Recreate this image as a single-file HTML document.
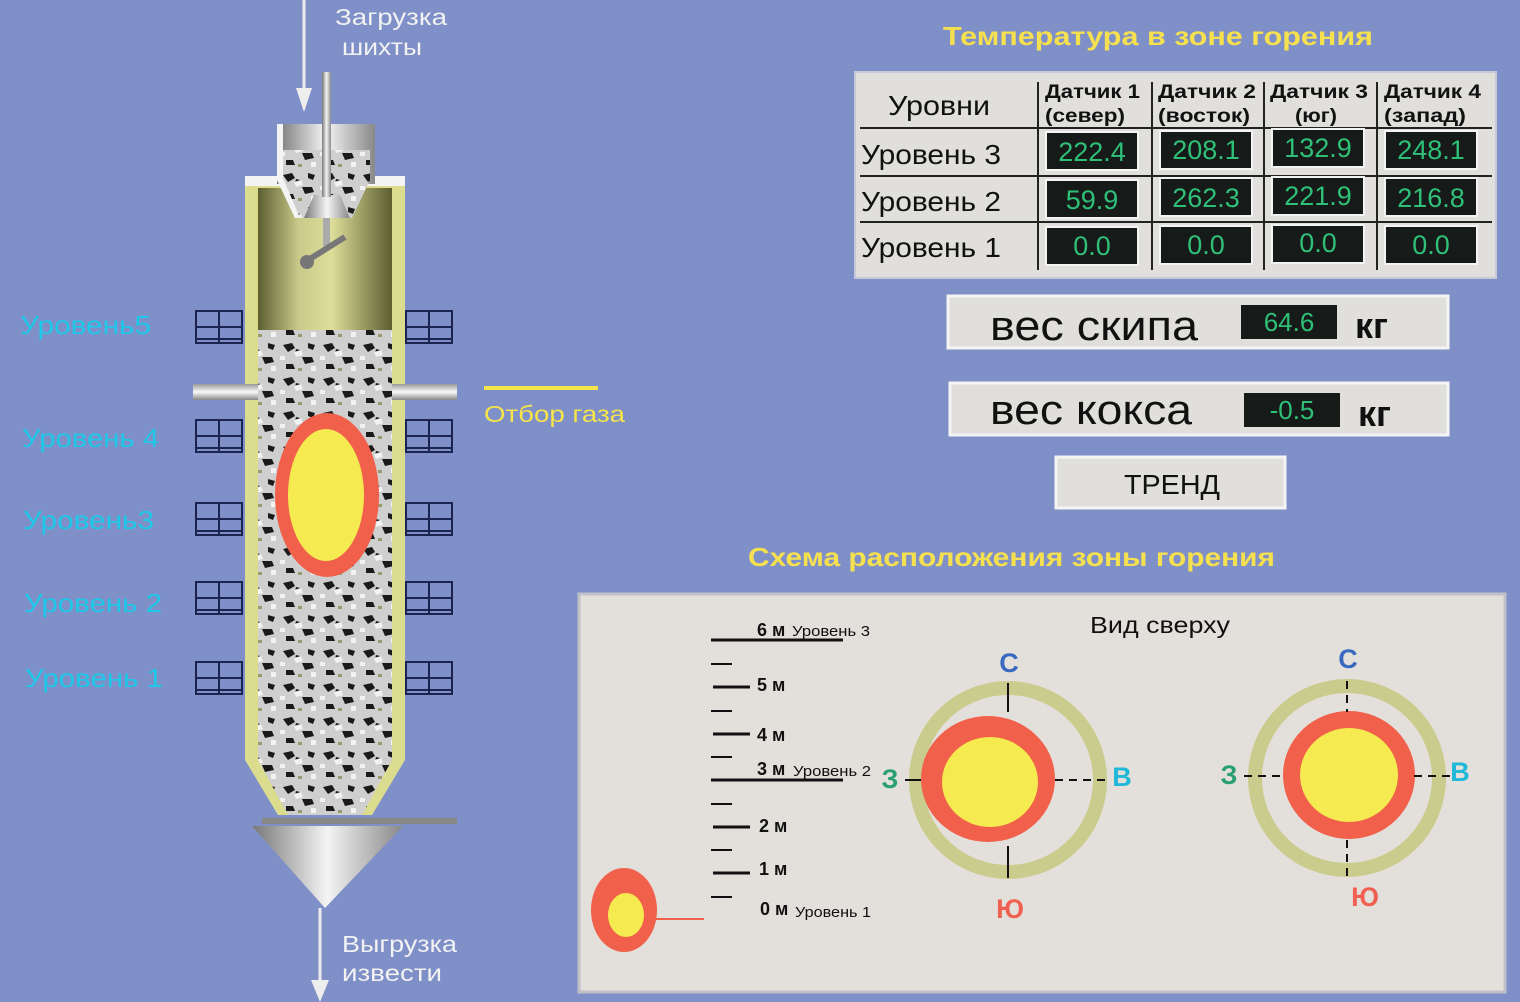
<!DOCTYPE html>
<html><head><meta charset="utf-8"><style>
html,body{margin:0;padding:0;background:#7f8fc8;}
svg{display:block}
text{font-family:"Liberation Sans","DejaVu Sans",sans-serif}
</style></head><body>
<svg width="1520" height="1002" viewBox="0 0 1520 1002" xmlns="http://www.w3.org/2000/svg">
<defs>
<linearGradient id="col" x1="0" x2="1" y1="0" y2="0">
<stop offset="0" stop-color="#5c5e30"/><stop offset="0.3" stop-color="#c9c98a"/><stop offset="0.55" stop-color="#dede9a"/><stop offset="1" stop-color="#5c5e30"/></linearGradient>
<linearGradient id="met" x1="0" x2="1" y1="0" y2="0">
<stop offset="0" stop-color="#777"/><stop offset="0.5" stop-color="#f4f4f4"/><stop offset="1" stop-color="#888"/></linearGradient>
<linearGradient id="pipe" x1="0" x2="0" y1="0" y2="1">
<stop offset="0" stop-color="#999"/><stop offset="0.5" stop-color="#fafafa"/><stop offset="1" stop-color="#888"/></linearGradient>
<pattern id="stones" width="40" height="34" patternUnits="userSpaceOnUse">
<rect width="40" height="34" fill="#cfcfcf"/>
<path d="M3 5 l9 -2 l3 5 l-7 4z M22 17 l10 0 l2 5 l-9 2z M6 24 l7 0 l2 5 l-9 0z M28 3 l7 2 l-2 5 l-5 -2z M16 9 l4 1 l-1 4 l-4 -1z" fill="#1a1a1a"/>
<path d="M14 12 l7 -2 l2 5 l-7 2z M31 26 l5 0 l0 5 l-5 0z M0 16 l5 0 l0 4 l-5 0z" fill="#f2f2f2"/>
<path d="M18 28 l4 0 l0 3 l-4 0z" fill="#9a9a70"/>
</pattern>
<g id="g1" fill="none" stroke="#1b2450" stroke-width="2"><rect x="196" y="0" width="46" height="32"/><line x1="196" y1="16" x2="242" y2="16"/><line x1="219" y1="0" x2="219" y2="32"/><line x1="196" y1="28" x2="242" y2="28"/></g>
</defs>
<rect width="1520" height="1002" fill="#7f8fc8"/>

<!-- loading arrow -->
<line x1="304" y1="0" x2="304" y2="100" stroke="#eee" stroke-width="3"/>
<polygon points="296,88 312,88 304,112" fill="#eee"/>
<text x="335" y="25" font-size="23" fill="#f2f2f2" textLength="112" lengthAdjust="spacingAndGlyphs">Загрузка</text>
<text x="342" y="55" font-size="23" fill="#f2f2f2" textLength="80" lengthAdjust="spacingAndGlyphs">шихты</text>

<!-- furnace body -->
<polygon points="245,180 405,180 405,760 372,815 278,815 245,760" fill="#dcdc8e"/>
<rect x="245" y="176" width="160" height="10" fill="#f4f4f4"/>
<polygon points="258,188 392,188 392,760 362,808 288,808 258,760" fill="url(#col)"/>
<polygon points="258,330 392,330 392,760 362,815 288,815 258,760" fill="url(#stones)"/>
<!-- hopper -->
<rect x="277" y="124" width="98" height="60" fill="url(#met)"/>
<polygon points="277,124 283,124 283,175 300,218 295,218 277,180" fill="#f4f4f4"/>
<polygon points="283,150 370,150 370,180 352,218 300,218 283,178" fill="url(#stones)"/>
<polygon points="314,195 340,195 350,218 304,218" fill="url(#met)"/>
<rect x="322" y="72" width="9" height="125" fill="url(#met)"/>
<rect x="323" y="218" width="7" height="28" fill="#aaa"/>
<path d="M305 262 l40 -25" stroke="#777" stroke-width="6"/>
<circle cx="307" cy="262" r="7" fill="#777"/>
<!-- flame -->
<ellipse cx="327" cy="495" rx="52" ry="82" fill="#f0604a"/>
<ellipse cx="326" cy="495" rx="38" ry="66" fill="#f5ea4f"/>
<!-- bottom cone -->
<rect x="262" y="818" width="195" height="6" fill="#888"/>
<polygon points="252,826 403,826 325,908" fill="url(#met)"/>
<line x1="320" y1="908" x2="320" y2="990" stroke="#eee" stroke-width="3"/>
<polygon points="311,980 329,980 320,1002" fill="#eee"/>
<text x="342" y="952" font-size="23" fill="#f2f2f2" textLength="115" lengthAdjust="spacingAndGlyphs">Выгрузка</text>
<text x="342" y="981" font-size="23" fill="#f2f2f2" textLength="100" lengthAdjust="spacingAndGlyphs">извести</text>
<!-- pipes -->
<rect x="193" y="384" width="65" height="16" fill="url(#pipe)"/>
<rect x="392" y="384" width="65" height="16" fill="url(#pipe)"/>
<line x1="484" y1="388" x2="598" y2="388" stroke="#f5e44a" stroke-width="4"/>
<text x="484" y="422" font-size="23" fill="#f5e44a" textLength="141" lengthAdjust="spacingAndGlyphs">Отбор газа</text>

<!-- grids -->
<g transform="translate(0,311)"><use href="#g1"/><use href="#g1" x="210"/></g>
<g transform="translate(0,420)"><use href="#g1"/><use href="#g1" x="210"/></g>
<g transform="translate(0,503)"><use href="#g1"/><use href="#g1" x="210"/></g>
<g transform="translate(0,582)"><use href="#g1"/><use href="#g1" x="210"/></g>
<g transform="translate(0,662)"><use href="#g1"/><use href="#g1" x="210"/></g>
<g font-size="26" fill="#1ec8e8">
<text x="20" y="334" textLength="131" lengthAdjust="spacingAndGlyphs">Уровень5</text>
<text x="22" y="447" textLength="137" lengthAdjust="spacingAndGlyphs">Уровень 4</text>
<text x="23" y="529" textLength="131" lengthAdjust="spacingAndGlyphs">Уровень3</text>
<text x="24" y="612" textLength="138" lengthAdjust="spacingAndGlyphs">Уровень 2</text>
<text x="25" y="687" textLength="138" lengthAdjust="spacingAndGlyphs">Уровень 1</text>
</g>

<!-- right panel -->
<text x="943" y="45" font-size="26" font-weight="bold" fill="#f5e050" textLength="430" lengthAdjust="spacingAndGlyphs">Температура в зоне горения</text>
<rect x="855" y="72" width="641" height="206" fill="#e1dfdb" stroke="#c8c8d8" stroke-width="2"/>
<g stroke="#222" stroke-width="2">
<line x1="860" y1="128" x2="1492" y2="128"/>
<line x1="860" y1="176" x2="1492" y2="176"/>
<line x1="860" y1="222" x2="1492" y2="222"/>
<line x1="1038" y1="82" x2="1038" y2="270"/>
<line x1="1152" y1="82" x2="1152" y2="270"/>
<line x1="1264" y1="82" x2="1264" y2="270"/>
<line x1="1377" y1="82" x2="1377" y2="270"/>
</g>
<g font-size="19" font-weight="bold" fill="#111">
<text x="1045" y="98" textLength="95" lengthAdjust="spacingAndGlyphs">Датчик 1</text><text x="1045" y="122" textLength="80" lengthAdjust="spacingAndGlyphs">(север)</text>
<text x="1158" y="98" textLength="98" lengthAdjust="spacingAndGlyphs">Датчик 2</text><text x="1158" y="122" textLength="92" lengthAdjust="spacingAndGlyphs">(восток)</text>
<text x="1270" y="98" textLength="98" lengthAdjust="spacingAndGlyphs">Датчик 3</text><text x="1295" y="122" textLength="42" lengthAdjust="spacingAndGlyphs">(юг)</text>
<text x="1384" y="98" textLength="97" lengthAdjust="spacingAndGlyphs">Датчик 4</text><text x="1384" y="122" textLength="82" lengthAdjust="spacingAndGlyphs">(запад)</text>
</g>
<g font-size="28" fill="#111">
<text x="888" y="115" textLength="102" lengthAdjust="spacingAndGlyphs">Уровни</text>
<text x="861" y="164" textLength="140" lengthAdjust="spacingAndGlyphs">Уровень 3</text>
<text x="861" y="211" textLength="140" lengthAdjust="spacingAndGlyphs">Уровень 2</text>
<text x="861" y="257" textLength="140" lengthAdjust="spacingAndGlyphs">Уровень 1</text>
</g>
<g fill="#161a18" stroke="#f4f4f4" stroke-width="2">
<rect x="1046" y="132" width="92" height="38"/><rect x="1160" y="131" width="92" height="38"/><rect x="1272" y="129" width="92" height="38"/><rect x="1385" y="131" width="92" height="38"/>
<rect x="1046" y="180" width="92" height="38"/><rect x="1160" y="178" width="92" height="38"/><rect x="1272" y="177" width="92" height="38"/><rect x="1385" y="178" width="92" height="38"/>
<rect x="1046" y="227" width="92" height="38"/><rect x="1160" y="226" width="92" height="38"/><rect x="1272" y="225" width="92" height="38"/><rect x="1385" y="226" width="92" height="38"/>
</g>
<g font-size="27" fill="#2fc078" text-anchor="middle">
<text x="1092" y="161">222.4</text><text x="1206" y="159">208.1</text><text x="1318" y="157">132.9</text><text x="1431" y="159">248.1</text>
<text x="1092" y="209">59.9</text><text x="1206" y="207">262.3</text><text x="1318" y="205">221.9</text><text x="1431" y="207">216.8</text>
<text x="1092" y="255">0.0</text><text x="1206" y="254">0.0</text><text x="1318" y="252">0.0</text><text x="1431" y="254">0.0</text>
</g>

<rect x="948" y="296" width="500" height="52" fill="#e1dfdb" stroke="#f4f4f4" stroke-width="3"/>
<text x="990" y="340" font-size="42" fill="#111" textLength="208" lengthAdjust="spacingAndGlyphs">вес скипа</text>
<rect x="1241" y="305" width="96" height="34" fill="#161a18"/>
<text x="1289" y="331" font-size="26" fill="#2fc078" text-anchor="middle">64.6</text>
<text x="1355" y="338" font-size="36" font-weight="bold" fill="#111">кг</text>

<rect x="950" y="383" width="498" height="52" fill="#e1dfdb" stroke="#f4f4f4" stroke-width="3"/>
<text x="990" y="424" font-size="42" fill="#111" textLength="202" lengthAdjust="spacingAndGlyphs">вес кокса</text>
<rect x="1244" y="393" width="96" height="34" fill="#161a18"/>
<text x="1292" y="419" font-size="26" fill="#2fc078" text-anchor="middle">-0.5</text>
<text x="1358" y="426" font-size="36" font-weight="bold" fill="#111">кг</text>

<rect x="1056" y="457" width="229" height="51" fill="#e1dfdb" stroke="#f4f4f4" stroke-width="3"/>
<text x="1124" y="494" font-size="28" fill="#111" textLength="96" lengthAdjust="spacingAndGlyphs">ТРЕНД</text>

<text x="748" y="566" font-size="26" font-weight="bold" fill="#f5e050" textLength="527" lengthAdjust="spacingAndGlyphs">Схема расположения зоны горения</text>
<rect x="579" y="594" width="926" height="398" fill="#e3e0dc" stroke="#c0c0c8" stroke-width="3"/>
<text x="1090" y="633" font-size="23" fill="#111" textLength="140" lengthAdjust="spacingAndGlyphs">Вид сверху</text>

<!-- scale -->
<g stroke="#111" stroke-width="3">
<line x1="711" y1="640" x2="843" y2="640"/>
<line x1="711" y1="780" x2="843" y2="780"/>
<line x1="713" y1="687" x2="750" y2="687"/><line x1="713" y1="734" x2="750" y2="734"/>
<line x1="713" y1="827" x2="750" y2="827"/><line x1="713" y1="873" x2="750" y2="873"/>
</g>
<g stroke="#111" stroke-width="2">
<line x1="711" y1="664" x2="732" y2="664"/><line x1="711" y1="711" x2="732" y2="711"/><line x1="711" y1="757" x2="732" y2="757"/>
<line x1="711" y1="804" x2="732" y2="804"/><line x1="711" y1="850" x2="732" y2="850"/><line x1="711" y1="897" x2="732" y2="897"/>
</g>
<g font-size="18" font-weight="bold" fill="#111">
<text x="757" y="636">6 м</text><text x="757" y="691">5 м</text><text x="757" y="741">4 м</text>
<text x="757" y="775">3 м</text><text x="759" y="832">2 м</text><text x="759" y="875">1 м</text><text x="760" y="915">0 м</text>
</g>
<g font-size="15" fill="#111">
<text x="792" y="636" textLength="78" lengthAdjust="spacingAndGlyphs">Уровень 3</text><text x="793" y="776" textLength="78" lengthAdjust="spacingAndGlyphs">Уровень 2</text><text x="795" y="917" textLength="76" lengthAdjust="spacingAndGlyphs">Уровень 1</text>
</g>
<ellipse cx="624" cy="910" rx="33" ry="42" fill="#f0604a"/>
<ellipse cx="626" cy="915" rx="18" ry="22" fill="#f5ea4f"/>
<line x1="655" y1="919" x2="704" y2="919" stroke="#f0604a" stroke-width="2"/>

<!-- left top view -->
<circle cx="1008" cy="780" r="92" fill="none" stroke="#c9cc8c" stroke-width="14"/>
<ellipse cx="988" cy="779" rx="67" ry="63" fill="#f0604a"/>
<ellipse cx="990" cy="782" rx="48" ry="45" fill="#f5ea4f"/>
<g stroke="#111" stroke-width="2">
<line x1="1008" y1="683" x2="1008" y2="712"/><line x1="1008" y1="846" x2="1008" y2="878"/>
<line x1="905" y1="780" x2="921" y2="780"/><line x1="1055" y1="780" x2="1110" y2="780" stroke-dasharray="8,6"/>
</g>
<g font-size="27" font-weight="bold">
<text x="1009" y="672" fill="#3a6ac0" text-anchor="middle">С</text>
<text x="1010" y="918" fill="#f06050" text-anchor="middle">Ю</text>
<text x="890" y="788" fill="#2aa070" text-anchor="middle">З</text>
<text x="1122" y="786" fill="#20b8d8" text-anchor="middle">В</text>
</g>
<!-- right top view -->
<circle cx="1347" cy="778" r="92" fill="none" stroke="#c9cc8c" stroke-width="14"/>
<ellipse cx="1349" cy="775" rx="66" ry="64" fill="#f0604a"/>
<ellipse cx="1349" cy="775" rx="49" ry="47" fill="#f5ea4f"/>
<g stroke="#111" stroke-width="2" stroke-dasharray="8,6">
<line x1="1347" y1="681" x2="1347" y2="712"/><line x1="1347" y1="840" x2="1347" y2="876"/>
<line x1="1244" y1="776" x2="1284" y2="776"/><line x1="1414" y1="776" x2="1450" y2="776"/>
</g>
<g font-size="27" font-weight="bold">
<text x="1348" y="668" fill="#3a6ac0" text-anchor="middle">С</text>
<text x="1365" y="906" fill="#f06050" text-anchor="middle">Ю</text>
<text x="1229" y="784" fill="#2aa070" text-anchor="middle">З</text>
<text x="1460" y="781" fill="#20b8d8" text-anchor="middle">В</text>
</g>
</svg>
</body></html>
